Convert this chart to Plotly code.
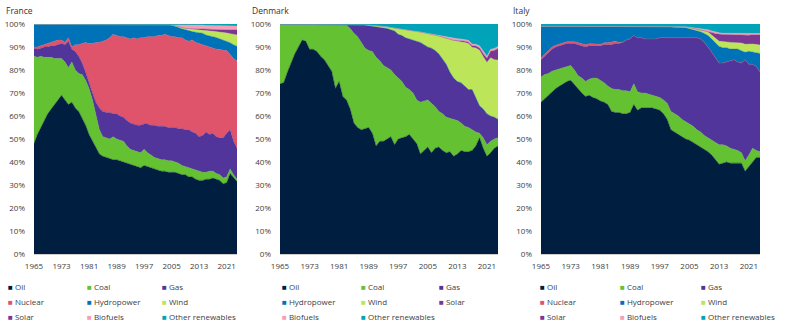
import numpy as np
import plotly.graph_objects as go

YEARS = list(range(1965, 2025))
X_TICKS = [1965, 1973, 1981, 1989, 1997, 2005, 2013, 2021]
Y_TICKS = [0, 10, 20, 30, 40, 50, 60, 70, 80, 90, 100]
Y_TICK_LABELS = ["0%", "10%", "20%", "30%", "40%", "50%", "60%", "70%", "80%", "90%", "100%"]

FUELS = ["Oil", "Coal", "Gas", "Nuclear", "Hydropower", "Wind", "Solar", "Biofuels", "Other renewables"]
COLORS = {
    "Oil": "#001e40",
    "Coal": "#63c132",
    "Gas": "#51359a",
    "Nuclear": "#e0546b",
    "Hydropower": "#0072b8",
    "Wind": "#bde55a",
    "Solar": "#7b3794",
    "Biofuels": "#f5a0b5",
    "Other renewables": "#00a3b7",
}

# Upper edge (cumulative %) of each band, 1965-2024
FR_OIL_UP = [48, 52, 55, 58, 61, 63, 65, 67.5, 69, 67,
             65, 66, 63.5, 62, 59, 56, 52, 49, 46, 43.5,
             42.5, 42, 41.5, 41, 41, 40.5, 40, 39.5, 39, 38.5,
             38, 37.5, 38.5, 38, 37.5, 37, 36.5, 36, 36, 35.5,
             35.5, 35.5, 35, 34.5, 34.5, 33.5, 33.5, 32.5, 32, 32,
             32.5, 32.5, 33, 32.5, 32, 30.5, 31, 35, 33, 31.5]
FR_COAL_UP = [86, 85.5, 86, 85.5, 85.5, 85.5, 85, 85, 85, 83.5,
              81, 83.5, 80, 78.5, 78, 75.5, 72, 67, 60, 54,
              51, 50.5, 50, 51, 50, 49.5, 49, 47, 45.5, 45,
              44.5, 44, 45.5, 44, 43, 42, 41.5, 41, 41, 40.5,
              40.5, 40, 39.5, 38.5, 38, 37.5, 37, 36.5, 36, 35.5,
              35.5, 36, 36, 35, 34.5, 33, 33.5, 37, 34.5, 32.5]
FR_GAS_UP = [89.5, 89, 89.5, 90, 90, 90.5, 90.5, 91, 91.5, 91,
             92.5, 89, 88, 86, 83, 79, 74, 70, 66, 63.5,
             62, 61.5, 61.5, 61, 61, 60, 59.5, 58, 57, 56.5,
             56, 56, 56.5, 56.5, 56, 56, 55.5, 55.5, 55.5, 55,
             55, 55, 54.5, 54.5, 54, 54, 53, 52.5, 51, 51.5,
             53, 52, 52.5, 51, 50.5, 50.5, 52.5, 54, 49, 46]
FR_NUC_UP = [90, 90, 90.5, 91, 91.5, 92, 92.5, 93, 93, 92,
             94, 90, 91, 91, 91.5, 92, 91.5, 91.5, 92, 92,
             92.5, 93, 94, 95.5, 95, 94.5, 94.5, 94, 93.5, 94,
             93.5, 94, 94, 94.5, 94.5, 94.5, 95, 95, 95.5, 95,
             94.5, 94.5, 94, 94, 93, 92.5, 93, 92, 91.5, 91,
             90.5, 90, 89.5, 89, 89, 88.5, 88.5, 86.5, 85, 84]
FR_HYDRO_UP = [99.8, 99.8, 99.8, 99.8, 99.8, 99.8, 99.8, 99.8, 99.8, 99.8,
               99.8, 99.8, 99.8, 99.8, 99.8, 99.8, 99.8, 99.8, 99.8, 99.8,
               99.8, 99.8, 99.8, 99.8, 99.8, 99.8, 99.8, 99.8, 99.8, 99.8,
               99.8, 99.8, 99.8, 99.8, 99.8, 99.8, 99.8, 99.8, 99.8, 99.7,
               99.45, 99.05, 98.45, 97.9, 97.4, 97.0, 96.7, 96.4, 96.2, 96.0,
               95.2, 95.0, 94.5, 94.1, 93.6, 92.9, 92.7, 91.9, 91.0, 90.3]
FR_WIND_UP = [99.8, 99.8, 99.8, 99.8, 99.8, 99.8, 99.8, 99.8, 99.8, 99.8,
              99.8, 99.8, 99.8, 99.8, 99.8, 99.8, 99.8, 99.8, 99.8, 99.8,
              99.8, 99.8, 99.8, 99.8, 99.8, 99.8, 99.8, 99.8, 99.8, 99.8,
              99.8, 99.8, 99.8, 99.8, 99.8, 99.8, 99.8, 99.8, 99.8, 99.8,
              99.6, 99.3, 98.8, 98.4, 98.1, 97.9, 97.8, 97.7, 97.6, 97.5,
              97.1, 97.0, 96.8, 96.7, 96.6, 96.2, 96.1, 95.8, 95.5, 95.2]
FR_SOLAR_UP = [99.8, 99.8, 99.8, 99.8, 99.8, 99.8, 99.8, 99.8, 99.8, 99.8,
               99.8, 99.8, 99.8, 99.8, 99.8, 99.8, 99.8, 99.8, 99.8, 99.8,
               99.8, 99.8, 99.8, 99.8, 99.8, 99.8, 99.8, 99.8, 99.8, 99.8,
               99.8, 99.8, 99.8, 99.8, 99.8, 99.8, 99.8, 99.8, 99.8, 99.8,
               99.6, 99.3, 98.8, 98.4, 98.1, 98.0, 98.0, 98.0, 98.0, 98.0,
               97.7, 97.7, 97.6, 97.6, 97.6, 97.4, 97.4, 97.4, 97.4, 97.4]
FR_BIO_UP = [99.8, 99.8, 99.8, 99.8, 99.8, 99.8, 99.8, 99.8, 99.8, 99.8,
             99.8, 99.8, 99.8, 99.8, 99.8, 99.8, 99.8, 99.8, 99.8, 99.8,
             99.8, 99.8, 99.8, 99.8, 99.8, 99.8, 99.8, 99.8, 99.8, 99.8,
             99.8, 99.8, 99.8, 99.8, 99.8, 99.8, 99.8, 99.8, 99.8, 99.8,
             99.6, 99.6, 99.6, 99.6, 99.6, 99.6, 99.6, 99.6, 99.6, 99.6,
             99.3, 99.3, 99.2, 99.2, 99.2, 99.1, 99.1, 99.1, 99.1, 99.1]

DK_OIL_UP = [74, 74.5, 79, 83, 87, 90, 93, 92.5, 89, 89,
             88, 86, 84.5, 82, 79.5, 72, 75, 68.5, 67, 63,
             57, 55, 54, 54.5, 55, 52.5, 47, 49, 49, 50,
             51, 47.5, 50, 50.5, 51, 52, 50, 48, 43.5, 45,
             46.5, 44, 46, 46.5, 45, 44, 44.5, 42.5, 43.5, 45,
             44.5, 44.5, 45, 47, 50.5, 46, 42.5, 44, 46, 47]
DK_COAL_UP = [99.9, 99.9, 99.9, 99.9, 99.9, 99.9, 99.9, 99.9, 99.9, 99.9,
              99.9, 99.9, 99.9, 99.9, 99.9, 99.9, 99.9, 99.9, 99.5, 98,
              96, 94.5, 92, 89.5, 88.5, 88, 85.5, 84, 82, 81,
              80, 78, 76.5, 75, 72.5, 71.5, 70, 67, 66, 66.5,
              67, 65.5, 64, 62, 61, 59.5, 59, 58.5, 58, 57,
              55.5, 55, 54, 53, 52.5, 50.5, 47.5, 49, 50, 50.5]
DK_GAS_UP = [99.9, 99.9, 99.9, 99.9, 99.9, 99.9, 99.9, 99.9, 99.9, 99.9,
             99.9, 99.9, 99.9, 99.9, 99.9, 99.9, 99.9, 99.9, 99.9, 99.9,
             99.9, 99.9, 99.8, 99.6, 99.2, 99, 98.8, 98.5, 98.2, 98,
             97.5, 97, 95.5, 95, 94, 93.5, 93, 92.5, 92, 91,
             90, 89.5, 88.5, 87, 85, 82.5, 79, 76.5, 75, 74.5,
             73, 71.5, 71.5, 68, 64.5, 63, 61, 60, 59.5, 58.6]
DK_HYDRO_UP = list(DK_GAS_UP)  # hydropower is not visible for Denmark
DK_WIND_UP = [99.9, 99.9, 99.9, 99.9, 99.9, 99.9, 99.9, 99.9, 99.9, 99.9,
              99.9, 99.9, 99.9, 99.9, 99.9, 99.9, 99.9, 99.9, 99.9, 99.9,
              99.9, 99.9, 99.9, 99.8, 99.6, 99.4, 99.3, 99.1, 99.0, 98.8,
              98.5, 98.2, 98.0, 97.8, 97.5, 97.2, 97.0, 96.8, 96.5, 96.2,
              96.0, 95.6, 95.2, 94.8, 94.3, 93.7, 93.2, 92.8, 92.5, 92.3,
              92.0, 91.5, 89.8, 89.6, 88.6, 85.8, 83.3, 85.3, 84.5, 84.3]
DK_SOLAR_UP = [99.9, 99.9, 99.9, 99.9, 99.9, 99.9, 99.9, 99.9, 99.9, 99.9,
               99.9, 99.9, 99.9, 99.9, 99.9, 99.9, 99.9, 99.9, 99.9, 99.9,
               99.9, 99.9, 99.9, 99.8, 99.6, 99.4, 99.3, 99.1, 99.0, 98.8,
               98.5, 98.2, 98.0, 97.8, 97.5, 97.2, 97.0, 96.8, 96.5, 96.2,
               96.0, 95.6, 95.2, 94.8, 94.3, 93.75, 93.25, 92.9, 92.8, 92.7,
               92.5, 92.1, 90.5, 90.4, 89.6, 87.1, 85.1, 88.1, 88.5, 89.3]
DK_BIO_UP = [99.9, 99.9, 99.9, 99.9, 99.9, 99.9, 99.9, 99.9, 99.9, 99.9,
             99.9, 99.9, 99.9, 99.9, 99.9, 99.9, 99.9, 99.9, 99.9, 99.9,
             99.9, 99.9, 99.9, 99.8, 99.6, 99.4, 99.3, 99.1, 99.0, 98.8,
             98.5, 98.2, 98.0, 97.8, 97.5, 97.2, 97.0, 96.8, 96.5, 96.2,
             96.0, 95.6, 95.2, 94.8, 94.5, 94.4, 94.0, 93.7, 93.6, 93.5,
             93.3, 92.9, 91.3, 91.2, 90.5, 88.0, 86.0, 89.0, 89.4, 90.2]

IT_OIL_UP = [66, 67.5, 69, 70.5, 72, 73, 74, 75, 75.5, 73.5,
             71.5, 70, 68.5, 69, 68, 67.5, 66.5, 66, 65, 62,
             61.5, 61.5, 61, 61, 61.5, 65, 62.5, 63.5, 63.5, 63.5,
             63.5, 63, 62.5, 61, 58.5, 54, 53, 52, 51, 50,
             49.5, 48.5, 47.5, 46.5, 45.5, 44.5, 43, 41, 39, 39.5,
             40, 39.5, 39.5, 39.5, 39.5, 36, 38, 40.5, 42, 42]
IT_COAL_UP = [77, 78, 78.5, 79.5, 80, 80.5, 81, 81.5, 82, 80,
              77.5, 76.5, 75, 76, 76.5, 76.5, 75.5, 74.5, 73, 72,
              71.5, 71.5, 71, 71, 70.5, 74, 70.5, 70, 70, 69.5,
              69, 68.5, 68, 67, 65.5, 62, 61, 60, 58.5, 57.5,
              56.5, 55.5, 54, 53, 51.5, 50.5, 49.5, 48.5, 47.5, 47.5,
              47, 46, 45.5, 45, 44, 40.5, 43, 46, 45, 44.5]
IT_GAS_UP = [84.5, 86, 87.5, 89, 90, 90.5, 91, 91.5, 91.5, 91.5,
             91, 90.5, 90, 90.5, 90.5, 90.5, 90.5, 91, 91, 91,
             91.5, 91.5, 92, 93, 93.5, 95, 94, 94, 93.5, 93.5,
             93.5, 93.5, 94, 94, 94, 94, 94, 94, 94, 94,
             94, 94, 94, 93.5, 92, 90, 87.5, 85, 83, 83,
             83.5, 84, 84.5, 83.5, 83, 84.5, 82.5, 82.5, 81.5, 79]
IT_NUC_UP = [85.3, 87, 88.5, 90, 90.8, 91.3, 91.8, 92.3, 92.3, 92.3,
             91.9, 91.5, 91, 91.4, 91.5, 91.3, 91.1, 91.8, 91.8, 92,
             92.5, 92, 92.1, 93, 93.5, 95, 94, 94, 93.5, 93.5,
             93.5, 93.5, 94, 94, 94, 94, 94, 94, 94, 94,
             94, 94, 94, 93.5, 92, 90, 87.5, 85, 83, 83,
             83.5, 84, 84.5, 83.5, 83, 84.5, 82.5, 82.5, 81.5, 79]
IT_HYDRO_UP = [99, 99, 99, 99, 99, 99, 99, 99, 99, 99,
               99, 99, 99, 99, 99, 99, 99, 99, 99, 99,
               99, 99, 99, 99, 99, 99, 99, 99, 99, 99,
               98.8, 98.8, 98.8, 98.8, 98.8, 98.7, 98.6, 98.6, 98.5, 98.4,
               97.9, 97.5, 97.1, 96.6, 95.9, 95.0, 93.5, 91.8, 90.2, 89.7,
               89.7, 89.1, 89.0, 89.1, 88.4, 87.7, 88.1, 87.8, 87.6, 87.2]
IT_WIND_UP = [99, 99, 99, 99, 99, 99, 99, 99, 99, 99,
              99, 99, 99, 99, 99, 99, 99, 99, 99, 99,
              99, 99, 99, 99, 99, 99, 99, 99, 99, 99,
              98.8, 98.8, 98.8, 98.8, 98.8, 98.8, 98.8, 98.8, 98.8, 98.8,
              98.4, 98.1, 97.8, 97.5, 97.1, 96.5, 95.3, 93.8, 92.5, 92.2,
              92.2, 92.0, 92.0, 91.9, 91.7, 91.2, 91.4, 91.3, 91.1, 90.9]
IT_SOLAR_UP = [99, 99, 99, 99, 99, 99, 99, 99, 99, 99,
               99, 99, 99, 99, 99, 99, 99, 99, 99, 99,
               99, 99, 99, 99, 99, 99, 99, 99, 99, 99,
               98.8, 98.8, 98.8, 98.8, 98.8, 98.8, 98.8, 98.8, 98.8, 98.8,
               98.4, 98.1, 97.8, 97.5, 97.2, 96.8, 96.3, 95.8, 95.5, 95.4,
               95.4, 95.3, 95.3, 95.2, 95.2, 95.0, 95.1, 95.3, 95.3, 95.2]
IT_BIO_UP = [99, 99, 99, 99, 99, 99, 99, 99, 99, 99,
             99, 99, 99, 99, 99, 99, 99, 99, 99, 99,
             99, 99, 99, 99, 99, 99, 99, 99, 99, 99,
             98.8, 98.8, 98.8, 98.8, 98.8, 98.8, 98.8, 98.8, 98.8, 98.8,
             98.6, 98.4, 98.2, 98.0, 97.8, 97.5, 97.0, 96.5, 96.2, 96.0,
             96.0, 95.9, 95.9, 95.9, 95.9, 95.8, 95.9, 96.0, 96.0, 95.9]

PANELS = [
    {"title": "France", "fuels": FUELS,
     "uppers": [FR_OIL_UP, FR_COAL_UP, FR_GAS_UP, FR_NUC_UP, FR_HYDRO_UP,
                FR_WIND_UP, FR_SOLAR_UP, FR_BIO_UP],
     "dom": (34, 237), "title_x": 5, "leg_cols": [7, 86, 161]},
    {"title": "Denmark",
     "fuels": ["Oil", "Coal", "Gas", "Hydropower", "Wind", "Solar", "Biofuels", "Other renewables"],
     "uppers": [DK_OIL_UP, DK_COAL_UP, DK_GAS_UP, DK_HYDRO_UP, DK_WIND_UP,
                DK_SOLAR_UP, DK_BIO_UP],
     "dom": (280, 498), "title_x": 251, "leg_cols": [281, 360, 438]},
    {"title": "Italy", "fuels": FUELS,
     "uppers": [IT_OIL_UP, IT_COAL_UP, IT_GAS_UP, IT_NUC_UP, IT_HYDRO_UP,
                IT_WIND_UP, IT_SOLAR_UP, IT_BIO_UP],
     "dom": (541, 760), "title_x": 512, "leg_cols": [539, 619, 700]},
]
LEG_ROWS = [286, 301, 316]

W, H = 798, 336
PLOT_TOP, PLOT_BOTTOM = 24, 254
FONT = "Open Sans"
TXT = "#404040"

fig = go.Figure()
layout = {}
annotations = []

for p, panel in enumerate(PANELS):
    ax = "" if p == 0 else str(p + 1)
    n = len(YEARS)
    edges = np.vstack([np.zeros(n)] + [np.array(u, dtype=float) for u in panel["uppers"]]
                      + [np.full(n, 100.0)])
    shares = np.clip(np.diff(edges, axis=0), 0, None)
    for fuel, share in zip(panel["fuels"], shares):
        c = COLORS[fuel]
        fig.add_trace(go.Scatter(
            x=YEARS, y=share, name=fuel, stackgroup=f"s{p}", mode="lines",
            line=dict(width=0.4, color=c), fillcolor=c, showlegend=False,
            xaxis=f"x{ax}", yaxis=f"y{ax}",
            hovertemplate=fuel + " %{x}: %{y:.1f}%<extra></extra>"))
    # legend entries (coloured square + name), laid out in 3 columns per panel
    for k, fuel in enumerate(panel["fuels"]):
        col, row = k % 3, k // 3
        c = COLORS[fuel]
        annotations.append(dict(
            text=f'<span style="color:{c}">■</span> {fuel}',
            xref="paper", yref="paper",
            x=panel["leg_cols"][col] / W, y=1 - LEG_ROWS[row] / H,
            xanchor="left", yanchor="middle", showarrow=False, borderpad=0,
            font=dict(family=FONT, size=8, color=TXT)))
    x0, x1 = panel["dom"]
    layout[f"xaxis{ax}"] = dict(
        domain=[x0 / W, x1 / W], range=[1965, 2024], tickvals=X_TICKS,
        showgrid=False, zeroline=False, showline=True, linecolor="#cfcfcf", linewidth=1,
        ticks="", ticklabelstandoff=4, tickfont=dict(family=FONT, size=8, color=TXT),
        anchor=f"y{ax}", fixedrange=True)
    layout[f"yaxis{ax}"] = dict(
        domain=[1 - PLOT_BOTTOM / H, 1 - PLOT_TOP / H], range=[0, 100],
        tickmode="array", tickvals=Y_TICKS, ticktext=Y_TICK_LABELS,
        showgrid=False, zeroline=False, showline=False, ticks="",
        ticklabelstandoff=8, tickfont=dict(family=FONT, size=8, color=TXT),
        anchor=f"x{ax}", fixedrange=True)
    annotations.append(dict(
        text=panel["title"], xref="paper", yref="paper", x=panel["title_x"] / W, y=1 - 11 / H,
        xanchor="left", yanchor="middle", showarrow=False, borderpad=0,
        font=dict(family=FONT, size=8.5, color="#333333")))

fig.update_layout(
    width=W, height=H, autosize=False,
    margin=dict(l=0, r=0, t=0, b=0, autoexpand=False),
    paper_bgcolor="white", plot_bgcolor="white", showlegend=False,
    annotations=annotations, hovermode="x",
    **layout)

fig.write_html("out.html")
